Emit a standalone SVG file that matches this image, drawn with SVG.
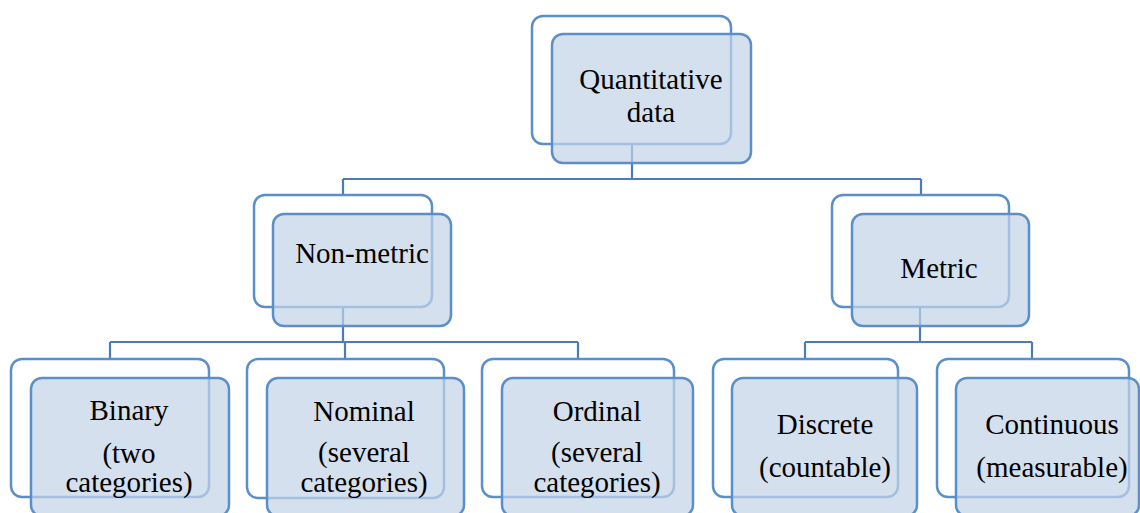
<svg xmlns="http://www.w3.org/2000/svg" width="1140" height="513" viewBox="0 0 1140 513">
<style>
.back{fill:#ffffff;stroke:#5b8fcb;stroke-width:2.5}
.front{fill:#c3d3e7;fill-opacity:0.7;stroke:#5b8fcb;stroke-width:2.5}
.conn{fill:none;stroke:#4a7db5;stroke-width:2.2}
text{font-family:"Liberation Serif","Times New Roman",serif;font-size:29px;fill:#000;text-anchor:middle}
</style>
<rect width="1140" height="513" fill="#ffffff"/>
<g id="connectors">
<path class="conn" d="M632,144 V179 M343,179 H921 M343,179 V195 M921,179 V195"/>
<path class="conn" d="M343,307 V342 M110,342 H578 M110,342 V359 M345,342 V359 M578,342 V359"/>
<path class="conn" d="M920,307 V342 M805,342 H1032 M805,342 V359 M1032,342 V359"/>
</g>
<g id="quantitative">
<rect class="back" x="532" y="16" width="199" height="128" rx="11"/>
<rect class="front" x="552" y="34" width="199" height="129" rx="11"/>
<text x="651" y="89">Quantitative</text>
<text x="651" y="122">data</text>
</g>
<g id="nonmetric">
<rect class="back" x="254" y="195" width="178" height="112" rx="11"/>
<rect class="front" x="273" y="214" width="178" height="112" rx="11"/>
<text x="362" y="263">Non-metric</text>
</g>
<g id="metric">
<rect class="back" x="832" y="195" width="177" height="112" rx="11"/>
<rect class="front" x="852" y="214" width="177" height="112" rx="11"/>
<text x="939" y="278">Metric</text>
</g>
<g id="binary">
<rect class="back" x="11" y="359" width="198" height="138" rx="11"/>
<rect class="front" x="31" y="378" width="198" height="138" rx="11"/>
<text x="129" y="420">Binary</text>
<text x="129" y="463">(two</text>
<text x="129" y="492">categories)</text>
</g>
<g id="nominal">
<rect class="back" x="247" y="359" width="197" height="139" rx="11"/>
<rect class="front" x="267" y="378" width="197" height="138" rx="11"/>
<text x="364" y="421">Nominal</text>
<text x="364" y="462">(several</text>
<text x="364" y="492">categories)</text>
</g>
<g id="ordinal">
<rect class="back" x="482" y="359" width="192" height="138" rx="11"/>
<rect class="front" x="502" y="378" width="191" height="138" rx="11"/>
<text x="597" y="421">Ordinal</text>
<text x="597" y="462">(several</text>
<text x="597" y="492">categories)</text>
</g>
<g id="discrete">
<rect class="back" x="713" y="359" width="185" height="138" rx="11"/>
<rect class="front" x="732" y="378" width="185" height="138" rx="11"/>
<text x="825" y="434">Discrete</text>
<text x="825" y="477">(countable)</text>
</g>
<g id="continuous">
<rect class="back" x="937" y="359" width="192" height="138" rx="11"/>
<rect class="front" x="956" y="378" width="183" height="138" rx="11"/>
<text x="1052" y="434">Continuous</text>
<text x="1052" y="477">(measurable)</text>
</g>
</svg>
